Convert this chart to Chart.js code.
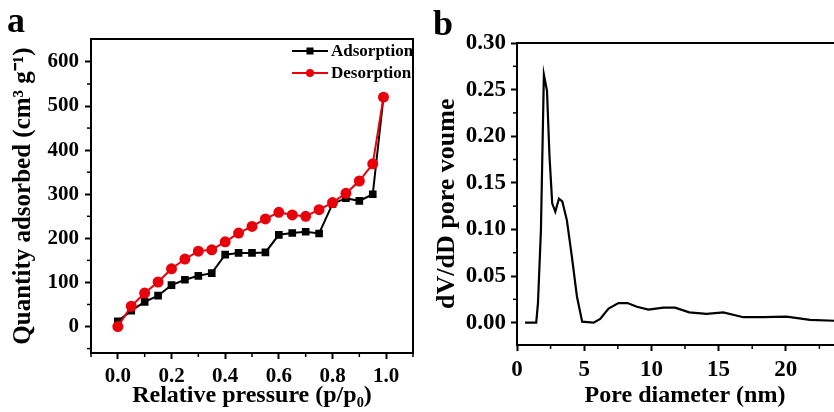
<!DOCTYPE html>
<html>
<head>
<meta charset="utf-8">
<script src="https://cdn.jsdelivr.net/npm/chart.js@4.4.0/dist/chart.umd.min.js"></script>
<style>
  html, body { margin:0; padding:0; background:#fff; overflow:hidden; width:834px; height:412px; }
  .panel { position:absolute; top:0; }
  .lbl { position:absolute; font-family:"Liberation Serif", serif; font-weight:bold; font-size:36px; line-height:1; color:#000; }
</style>
</head>
<body>
<canvas id="chartA" class="panel" width="430" height="412" style="left:0"></canvas>
<canvas id="chartB" class="panel" width="450" height="412" style="left:430px"></canvas>
<div class="lbl" style="left:7px;top:2px">a</div>
<div class="lbl" style="left:433px;top:5px">b</div>
<script>
// === Panel a: isotermas ===
const pressure = [0.0,0.05,0.1,0.15,0.2,0.25,0.3,0.35,0.4,0.45,0.5,0.55,0.6,0.65,0.7,0.75,0.8,0.85,0.9,0.95,0.99];
const adsorption = [12,36,56,70,94,106,115,121,163,167,167,168,208,212,215,211,278,291,285,300,520];
const desorption = [0,46,76,101,131,153,171,174,192,212,227,244,259,253,250,265,281,302,330,369,520];
const pressureTicks = [0,0.2,0.4,0.6,0.8,1.0];
const pressureMinor = [-0.1,0.1,0.3,0.5,0.7,0.9,1.1];
const quantityTicks = [0,100,200,300,400,500,600];
const quantityMinor = [-50,50,150,250,350,450,550];

// === Panel b: distribucion de poros ===
const diameter = [0.6,1.43,1.56,1.78,2.0,2.23,2.42,2.62,2.85,3.12,3.37,3.71,4.08,4.46,4.85,5.7,6.19,6.81,7.55,8.22,8.92,9.78,10.9,11.76,12.82,14.1,15.35,16.84,18.3,20.06,21.8,23.6,25];
const poreVolume = [0,0,0.021,0.099,0.266,0.249,0.178,0.128,0.119,0.133,0.130,0.110,0.071,0.028,0.001,0,0.004,0.015,0.021,0.021,0.017,0.014,0.016,0.016,0.011,0.0093,0.011,0.0058,0.006,0.0065,0.003,0.002,0.0015];
const diameterTicks = [0,5,10,15,20,25];
const diameterMinor = [2.5,7.5,12.5,17.5,22.5];
const volumeTicks = [0,0.05,0.1,0.15,0.2,0.25,0.3];
const volumeMinor = [0.025,0.075,0.125,0.175,0.225,0.275];

const SERIF = '"Liberation Serif", "Times New Roman", serif';

// marco + ticks menores
const framePlugin = {
  id:'frame',
  afterDraw(chart, args, opts){
    const {ctx, chartArea:a, scales} = chart;
    ctx.save();
    ctx.strokeStyle = '#000';
    ctx.lineWidth = 2;
    ctx.beginPath();
    ctx.moveTo(a.left, a.top); ctx.lineTo(a.right, a.top); ctx.lineTo(a.right, a.bottom);
    ctx.stroke();
    ctx.lineWidth = 1.5;
    (opts.xMinor||[]).forEach(v=>{
      const x = scales.x.getPixelForValue(v);
      ctx.beginPath(); ctx.moveTo(x, a.bottom); ctx.lineTo(x, a.bottom+4); ctx.stroke();
    });
    (opts.yMinor||[]).forEach(v=>{
      const y = scales.y.getPixelForValue(v);
      ctx.beginPath(); ctx.moveTo(a.left, y); ctx.lineTo(a.left-4, y); ctx.stroke();
    });
    ctx.restore();
  }
};

// leyenda dentro del grafico
const legendPlugin = {
  id:'inLegend',
  afterDraw(chart, args, opts){
    if(!opts.items) return;
    const ctx = chart.ctx;
    ctx.save();
    opts.items.forEach((it,i)=>{
      const ds = chart.data.datasets[it.ds];
      const y = opts.y + i*opts.gap;
      ctx.strokeStyle = ds.borderColor; ctx.lineWidth = 2;
      ctx.beginPath(); ctx.moveTo(opts.x, y); ctx.lineTo(opts.x+opts.len, y); ctx.stroke();
      ctx.fillStyle = ds.borderColor;
      const cx = opts.x + opts.len/2;
      if(ds.pointStyle === 'rect'){ ctx.fillRect(cx-3.5, y-3.5, 7, 7); }
      else { ctx.beginPath(); ctx.arc(cx, y, 4, 0, Math.PI*2); ctx.fill(); }
      ctx.fillStyle = '#000';
      ctx.font = 'bold 17px ' + SERIF;
      ctx.textBaseline = 'middle';
      ctx.fillText(ds.label, opts.x+opts.len+3, y+1);
    });
    ctx.restore();
  }
};

function axis(opts){
  return Object.assign({
    type:'linear',
    border:{display:true, color:'#000', width:2},
    grid:{drawOnChartArea:false, drawTicks:true, tickLength:6, tickWidth:2, tickColor:'#000'},
  }, opts);
}

new Chart(document.getElementById('chartA'), {
  type:'line',
  data:{
    datasets:[
      {label:'Adsorption', data: pressure.map((p,i)=>({x:p, y:adsorption[i]})), borderColor:'#000', backgroundColor:'#000',
       borderWidth:2, pointStyle:'rect', pointRadius:4, order:1},
      {label:'Desorption', data: pressure.map((p,i)=>({x:p, y:desorption[i]})), borderColor:'#e8000b', backgroundColor:'#e8000b',
       borderWidth:2, pointStyle:'circle', pointRadius:4.5, order:0}
    ]
  },
  options:{
    responsive:false, animation:false,
    layout:{padding:{top:39, right:17, left:0, bottom:0}},
    plugins:{
      legend:{display:false}, tooltip:{enabled:false},
      frame:{xMinor:pressureMinor, yMinor:quantityMinor},
      inLegend:{x:292, y:51, gap:22, len:36, items:[{ds:0},{ds:1}]}
    },
    scales:{
      x: axis({min:-0.1, max:1.1,
        afterBuildTicks: s=>{ s.ticks = pressureTicks.map(v=>({value:v})); },
        afterFit: s=>{ s.height = 59; },
        ticks:{color:'#000', padding:5, minRotation:0, maxRotation:0, font:{family:SERIF, size:21, weight:'bold'}, callback:v=>v.toFixed(1)},
        title:{display:true, text:'Relative pressure (p/p\u2080)', color:'#000', padding:{top:0,bottom:2}, font:{family:SERIF, size:24, weight:'bold'}}
      }),
      y: axis({min:-60, max:652,
        afterBuildTicks: s=>{ s.ticks = quantityTicks.map(v=>({value:v})); },
        afterFit: s=>{ s.width = 91; },
        ticks:{color:'#000', padding:6, font:{family:SERIF, size:21, weight:'bold'}},
        title:{display:true, text:'Quantity adsorbed (cm\u00b3 g\u207b\u00b9)', color:'#000', padding:{top:9,bottom:0}, font:{family:SERIF, size:25, weight:'bold'}}
      })
    }
  },
  plugins:[framePlugin, legendPlugin]
});

new Chart(document.getElementById('chartB'), {
  type:'line',
  data:{
    datasets:[
      {label:'Pore', data: diameter.map((d,i)=>({x:d, y:poreVolume[i]})), borderColor:'#000', borderWidth:2.2,
       pointRadius:0, tension:0}
    ]
  },
  options:{
    responsive:false, animation:false,
    layout:{padding:{top:43, right:27, left:0, bottom:0}},
    plugins:{
      legend:{display:false}, tooltip:{enabled:false},
      frame:{xMinor:diameterMinor, yMinor:volumeMinor}
    },
    scales:{
      x: axis({min:0, max:25,
        afterBuildTicks: s=>{ s.ticks = diameterTicks.map(v=>({value:v})); },
        afterFit: s=>{ s.height = 67; },
        ticks:{color:'#000', padding:5, minRotation:0, maxRotation:0, autoSkip:false, font:{family:SERIF, size:23, weight:'bold'}},
        title:{display:true, text:'Pore diameter (nm)', color:'#000', padding:{top:0,bottom:2}, font:{family:SERIF, size:24, weight:'bold'}}
      }),
      y: axis({min:-0.024, max:0.30,
        afterBuildTicks: s=>{ s.ticks = volumeTicks.map(v=>({value:v})); },
        afterFit: s=>{ s.width = 87; },
        ticks:{color:'#000', padding:5, font:{family:SERIF, size:23, weight:'bold'}, callback:v=>v.toFixed(2)},
        title:{display:true, text:'dV/dD pore voume\u00a0\u00a0\u00a0', color:'#000', padding:{top:2,bottom:0}, font:{family:SERIF, size:26, weight:'bold'}}
      })
    }
  },
  plugins:[framePlugin]
});
</script>
</body>
</html>
